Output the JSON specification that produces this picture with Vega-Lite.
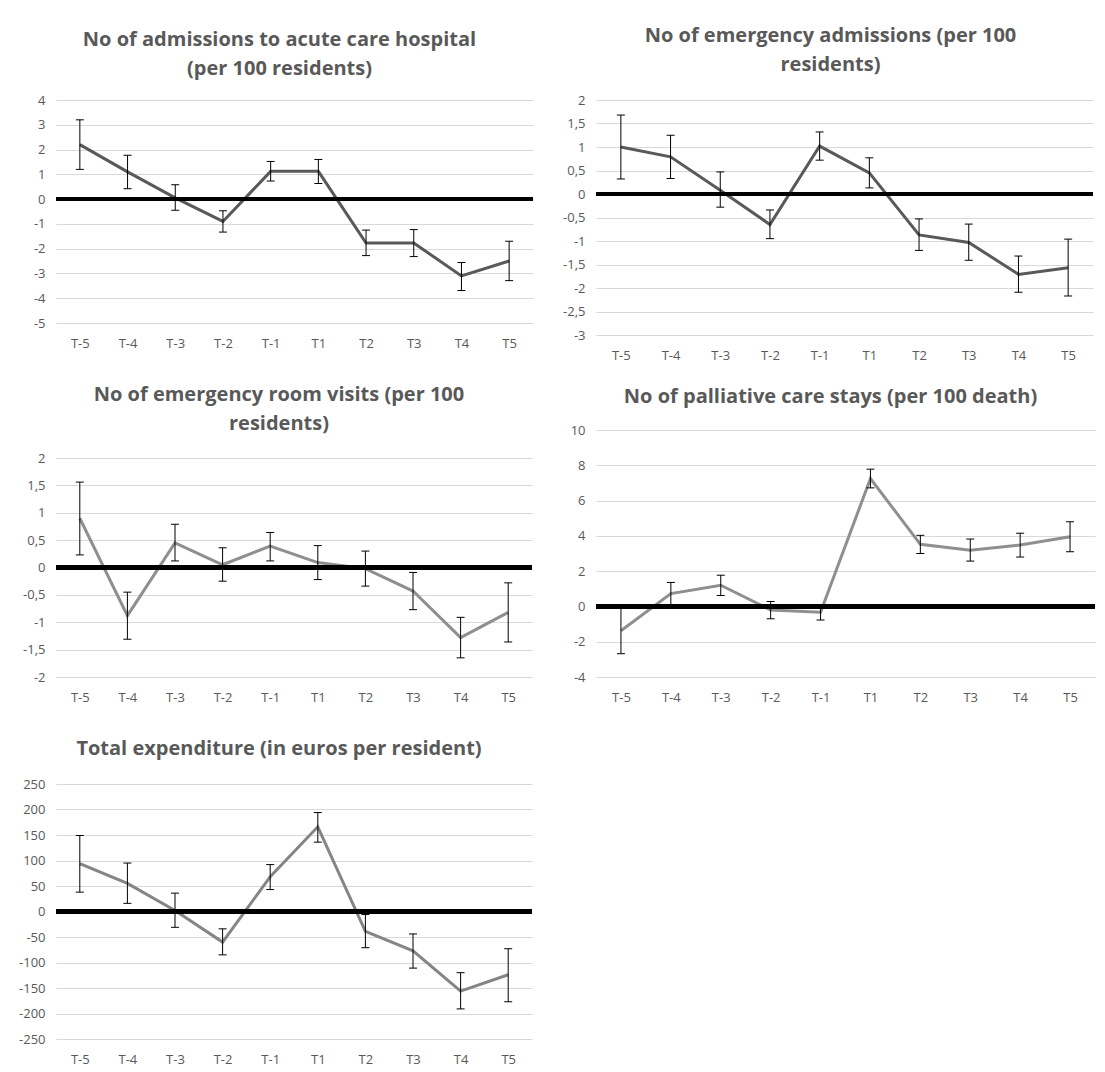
{
  "$schema": "https://vega.github.io/schema/vega-lite/v6.json",
  "background": "white",
  "padding": {"left": 0, "top": 26, "right": 0, "bottom": 0},
  "config": {
    "font": "Open Sans",
    "view": {"stroke": null},
    "title": {"font": "Open Sans", "fontWeight": "bold", "fontSize": 20, "color": "#595959", "anchor": "middle", "lineHeight": 29, "frame": "group"},
    "axis": {"labelFont": "Open Sans", "labelFontSize": 13, "labelColor": "#595959", "domain": false, "ticks": false, "title": null, "gridColor": "#d9d9d9", "gridWidth": 1, "labelOverlap": false},
    "axisX": {"grid": false, "labelPadding": 14, "labelAngle": 0},
    "axisY": {"grid": true, "labelPadding": 11, "tickCount": 20},
    "tick": {"opacity": 1}
  },
  "datasets": {
    "p1": [
      {"t": "T-5", "mean": 2.2, "lo": 1.2, "hi": 3.2},
      {"t": "T-4", "mean": 1.1, "lo": 0.42, "hi": 1.77},
      {"t": "T-3", "mean": 0.05, "lo": -0.45, "hi": 0.58},
      {"t": "T-2", "mean": -0.9, "lo": -1.33, "hi": -0.47},
      {"t": "T-1", "mean": 1.12, "lo": 0.73, "hi": 1.52},
      {"t": "T1", "mean": 1.12, "lo": 0.63, "hi": 1.6},
      {"t": "T2", "mean": -1.77, "lo": -2.28, "hi": -1.25},
      {"t": "T3", "mean": -1.77, "lo": -2.32, "hi": -1.23},
      {"t": "T4", "mean": -3.1, "lo": -3.69, "hi": -2.56},
      {"t": "T5", "mean": -2.5, "lo": -3.29, "hi": -1.7}
    ],
    "p2": [
      {"t": "T-5", "mean": 1.0, "lo": 0.32, "hi": 1.68},
      {"t": "T-4", "mean": 0.79, "lo": 0.33, "hi": 1.25},
      {"t": "T-3", "mean": 0.08, "lo": -0.28, "hi": 0.47},
      {"t": "T-2", "mean": -0.65, "lo": -0.95, "hi": -0.34},
      {"t": "T-1", "mean": 1.02, "lo": 0.72, "hi": 1.32},
      {"t": "T1", "mean": 0.45, "lo": 0.13, "hi": 0.77},
      {"t": "T2", "mean": -0.87, "lo": -1.2, "hi": -0.53},
      {"t": "T3", "mean": -1.03, "lo": -1.41, "hi": -0.64},
      {"t": "T4", "mean": -1.71, "lo": -2.09, "hi": -1.32},
      {"t": "T5", "mean": -1.57, "lo": -2.17, "hi": -0.96}
    ],
    "p3": [
      {"t": "T-5", "mean": 0.9, "lo": 0.23, "hi": 1.56},
      {"t": "T-4", "mean": -0.88, "lo": -1.31, "hi": -0.45},
      {"t": "T-3", "mean": 0.45, "lo": 0.12, "hi": 0.79},
      {"t": "T-2", "mean": 0.05, "lo": -0.25, "hi": 0.36},
      {"t": "T-1", "mean": 0.39, "lo": 0.12, "hi": 0.64},
      {"t": "T1", "mean": 0.09, "lo": -0.22, "hi": 0.4},
      {"t": "T2", "mean": -0.02, "lo": -0.34, "hi": 0.3},
      {"t": "T3", "mean": -0.43, "lo": -0.77, "hi": -0.09},
      {"t": "T4", "mean": -1.28, "lo": -1.65, "hi": -0.91},
      {"t": "T5", "mean": -0.82, "lo": -1.36, "hi": -0.28}
    ],
    "p4": [
      {"t": "T-5", "mean": -1.38, "lo": -2.68, "hi": -0.08},
      {"t": "T-4", "mean": 0.73, "lo": 0.1, "hi": 1.36},
      {"t": "T-3", "mean": 1.2, "lo": 0.62, "hi": 1.77},
      {"t": "T-2", "mean": -0.2, "lo": -0.7, "hi": 0.28},
      {"t": "T-1", "mean": -0.33, "lo": -0.77, "hi": 0.05},
      {"t": "T1", "mean": 7.25, "lo": 6.72, "hi": 7.78},
      {"t": "T2", "mean": 3.52, "lo": 3.0, "hi": 4.03},
      {"t": "T3", "mean": 3.18, "lo": 2.57, "hi": 3.82},
      {"t": "T4", "mean": 3.48, "lo": 2.8, "hi": 4.15},
      {"t": "T5", "mean": 3.95, "lo": 3.1, "hi": 4.8}
    ],
    "p5": [
      {"t": "T-5", "mean": 94, "lo": 38, "hi": 149},
      {"t": "T-4", "mean": 55, "lo": 16, "hi": 95},
      {"t": "T-3", "mean": 2, "lo": -31, "hi": 36},
      {"t": "T-2", "mean": -60, "lo": -85, "hi": -34},
      {"t": "T-1", "mean": 68, "lo": 43, "hi": 92},
      {"t": "T1", "mean": 166, "lo": 136, "hi": 194},
      {"t": "T2", "mean": -39, "lo": -71, "hi": -6},
      {"t": "T3", "mean": -77, "lo": -111, "hi": -44},
      {"t": "T4", "mean": -156, "lo": -191, "hi": -120},
      {"t": "T5", "mean": -124, "lo": -177, "hi": -73}
    ]
  },
  "spacing": 10,
  "hconcat": [
    {
      "spacing": 35,
      "vconcat": [
        {
          "title": {"text": ["No of admissions to acute care hospital", "(per 100 residents)"], "offset": 15, "dx": -15},
          "width": 477, "height": 223,
          "data": {"name": "p1"},
          "layer": [
            {"mark": {"type": "line", "color": "#595959", "strokeWidth": 3},
             "encoding": {
               "x": {"field": "t", "type": "ordinal", "sort": null, "scale": {"type": "point", "padding": 0.5}, "axis": {"minExtent": 27, "maxExtent": 27}},
               "y": {"field": "mean", "type": "quantitative", "scale": {"domain": [-5, 4], "nice": false, "zero": false}, "axis": {"values": [-5, -4, -3, -2, -1, 0, 1, 2, 3, 4], "tickCount": 20, "labelOverlap": false, "labelExpr": "replace(toString(datum.value), '.', ',')", "minExtent": 56, "maxExtent": 56}}
             }},
            {"mark": {"type": "rule", "color": "black", "strokeWidth": 1},
             "encoding": {"x": {"field": "t", "type": "ordinal", "sort": null}, "y": {"field": "lo", "type": "quantitative"}, "y2": {"field": "hi"}}},
            {"mark": {"type": "tick", "color": "black", "thickness": 1, "size": 8},
             "encoding": {"x": {"field": "t", "type": "ordinal", "sort": null}, "y": {"field": "lo", "type": "quantitative"}}},
            {"mark": {"type": "tick", "color": "black", "thickness": 1, "size": 8},
             "encoding": {"x": {"field": "t", "type": "ordinal", "sort": null}, "y": {"field": "hi", "type": "quantitative"}}},
            {"mark": {"type": "rule", "color": "black", "strokeWidth": 4},
             "encoding": {"y": {"datum": 0}}}
          ]
        },
        {
          "title": {"text": ["No of emergency room visits (per 100", "residents)"], "offset": 18, "dx": -15},
          "width": 476, "height": 219,
          "data": {"name": "p3"},
          "layer": [
            {"mark": {"type": "line", "color": "#8f8f8f", "strokeWidth": 3},
             "encoding": {
               "x": {"field": "t", "type": "ordinal", "sort": null, "scale": {"type": "point", "padding": 0.5}, "axis": {"minExtent": 25, "maxExtent": 25}},
               "y": {"field": "mean", "type": "quantitative", "scale": {"domain": [-2, 2], "nice": false, "zero": false}, "axis": {"values": [-2, -1.5, -1, -0.5, 0, 0.5, 1, 1.5, 2], "tickCount": 20, "labelOverlap": false, "labelExpr": "replace(toString(datum.value), '.', ',')", "minExtent": 56, "maxExtent": 56}}
             }},
            {"mark": {"type": "rule", "color": "black", "strokeWidth": 1},
             "encoding": {"x": {"field": "t", "type": "ordinal", "sort": null}, "y": {"field": "lo", "type": "quantitative"}, "y2": {"field": "hi"}}},
            {"mark": {"type": "tick", "color": "black", "thickness": 1, "size": 8},
             "encoding": {"x": {"field": "t", "type": "ordinal", "sort": null}, "y": {"field": "lo", "type": "quantitative"}}},
            {"mark": {"type": "tick", "color": "black", "thickness": 1, "size": 8},
             "encoding": {"x": {"field": "t", "type": "ordinal", "sort": null}, "y": {"field": "hi", "type": "quantitative"}}},
            {"mark": {"type": "rule", "color": "black", "strokeWidth": 4},
             "encoding": {"y": {"datum": 0}}}
          ]
        },
        {
          "title": {"text": "Total expenditure (in euros per resident)", "offset": 19, "dx": -15},
          "width": 476, "height": 255,
          "data": {"name": "p5"},
          "layer": [
            {"mark": {"type": "line", "color": "#858585", "strokeWidth": 3},
             "encoding": {
               "x": {"field": "t", "type": "ordinal", "sort": null, "scale": {"type": "point", "padding": 0.5}, "axis": {"minExtent": 27, "maxExtent": 27}},
               "y": {"field": "mean", "type": "quantitative", "scale": {"domain": [-250, 250], "nice": false, "zero": false}, "axis": {"values": [-250, -200, -150, -100, -50, 0, 50, 100, 150, 200, 250], "tickCount": 20, "labelOverlap": false, "labelExpr": "replace(toString(datum.value), '.', ',')", "minExtent": 56, "maxExtent": 56}}
             }},
            {"mark": {"type": "rule", "color": "black", "strokeWidth": 1},
             "encoding": {"x": {"field": "t", "type": "ordinal", "sort": null}, "y": {"field": "lo", "type": "quantitative"}, "y2": {"field": "hi"}}},
            {"mark": {"type": "tick", "color": "black", "thickness": 1, "size": 8},
             "encoding": {"x": {"field": "t", "type": "ordinal", "sort": null}, "y": {"field": "lo", "type": "quantitative"}}},
            {"mark": {"type": "tick", "color": "black", "thickness": 1, "size": 8},
             "encoding": {"x": {"field": "t", "type": "ordinal", "sort": null}, "y": {"field": "hi", "type": "quantitative"}}},
            {"mark": {"type": "rule", "color": "black", "strokeWidth": 4},
             "encoding": {"y": {"datum": 0}}}
          ]
        }
      ]
    },
    {
      "spacing": 25,
      "vconcat": [
        {
          "title": {"text": ["No of emergency admissions (per 100", "residents)"], "offset": 19, "dx": -14},
          "width": 497, "height": 235,
          "data": {"name": "p2"},
          "layer": [
            {"mark": {"type": "line", "color": "#595959", "strokeWidth": 3},
             "encoding": {
               "x": {"field": "t", "type": "ordinal", "sort": null, "scale": {"type": "point", "padding": 0.5}, "axis": {"minExtent": 25, "maxExtent": 25}},
               "y": {"field": "mean", "type": "quantitative", "scale": {"domain": [-3, 2], "nice": false, "zero": false}, "axis": {"values": [-3, -2.5, -2, -1.5, -1, -0.5, 0, 0.5, 1, 1.5, 2], "tickCount": 20, "labelOverlap": false, "labelExpr": "replace(toString(datum.value), '.', ',')", "minExtent": 51, "maxExtent": 51}}
             }},
            {"mark": {"type": "rule", "color": "black", "strokeWidth": 1},
             "encoding": {"x": {"field": "t", "type": "ordinal", "sort": null}, "y": {"field": "lo", "type": "quantitative"}, "y2": {"field": "hi"}}},
            {"mark": {"type": "tick", "color": "black", "thickness": 1, "size": 8},
             "encoding": {"x": {"field": "t", "type": "ordinal", "sort": null}, "y": {"field": "lo", "type": "quantitative"}}},
            {"mark": {"type": "tick", "color": "black", "thickness": 1, "size": 8},
             "encoding": {"x": {"field": "t", "type": "ordinal", "sort": null}, "y": {"field": "hi", "type": "quantitative"}}},
            {"mark": {"type": "rule", "color": "black", "strokeWidth": 4},
             "encoding": {"y": {"datum": 0}}}
          ]
        },
        {
          "title": {"text": "No of palliative care stays (per 100 death)", "offset": 17, "dx": -15},
          "width": 499, "height": 247,
          "data": {"name": "p4"},
          "layer": [
            {"mark": {"type": "line", "color": "#8f8f8f", "strokeWidth": 3},
             "encoding": {
               "x": {"field": "t", "type": "ordinal", "sort": null, "scale": {"type": "point", "padding": 0.5}, "axis": {"minExtent": 25, "maxExtent": 25}},
               "y": {"field": "mean", "type": "quantitative", "scale": {"domain": [-4, 10], "nice": false, "zero": false}, "axis": {"values": [-4, -2, 0, 2, 4, 6, 8, 10], "tickCount": 20, "labelOverlap": false, "labelExpr": "replace(toString(datum.value), '.', ',')", "minExtent": 51, "maxExtent": 51}}
             }},
            {"mark": {"type": "rule", "color": "black", "strokeWidth": 1},
             "encoding": {"x": {"field": "t", "type": "ordinal", "sort": null}, "y": {"field": "lo", "type": "quantitative"}, "y2": {"field": "hi"}}},
            {"mark": {"type": "tick", "color": "black", "thickness": 1, "size": 8},
             "encoding": {"x": {"field": "t", "type": "ordinal", "sort": null}, "y": {"field": "lo", "type": "quantitative"}}},
            {"mark": {"type": "tick", "color": "black", "thickness": 1, "size": 8},
             "encoding": {"x": {"field": "t", "type": "ordinal", "sort": null}, "y": {"field": "hi", "type": "quantitative"}}},
            {"mark": {"type": "rule", "color": "black", "strokeWidth": 4},
             "encoding": {"y": {"datum": 0}}}
          ]
        }
      ]
    }
  ]
}
